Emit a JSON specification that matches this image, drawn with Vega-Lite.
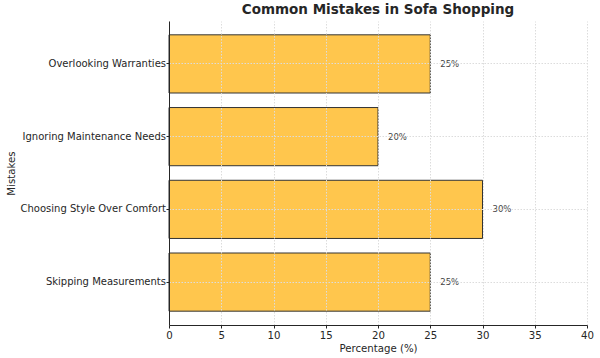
{
  "$schema": "https://vega.github.io/schema/vega-lite/v6.json",
  "autosize": "none",
  "width": 418,
  "height": 304,
  "padding": {"left": 169, "top": 21, "right": 13, "bottom": 33},
  "background": "white",
  "title": {"text": "Common Mistakes in Sofa Shopping", "font": "DejaVu Sans", "fontSize": 13.5, "fontWeight": "bold", "color": "#262626", "anchor": "middle", "offset": 5},
  "config": {"view": {"stroke": null}, "font": "DejaVu Sans"},
  "data": {"values": [
    {"mistake": "Skipping Measurements", "pct": 25},
    {"mistake": "Choosing Style Over Comfort", "pct": 30},
    {"mistake": "Ignoring Maintenance Needs", "pct": 20},
    {"mistake": "Overlooking Warranties", "pct": 25}
  ]},
  "encoding": {
    "y": {"field": "mistake", "type": "nominal", "sort": ["Overlooking Warranties", "Ignoring Maintenance Needs", "Choosing Style Over Comfort", "Skipping Measurements"],
      "scale": {"paddingInner": 0.2, "paddingOuter": 0.19},
      "axis": {"title": "Mistakes", "zindex": 1, "grid": true, "gridDash": [1.5, 1.5], "gridColor": "#dcdcdc", "labelFont": "DejaVu Sans", "labelFontSize": 10, "labelColor": "#262626", "titleFont": "DejaVu Sans", "titleFontSize": 10.2, "titleFontWeight": "normal", "titleColor": "#262626", "domainColor": "#262626", "tickColor": "#262626", "tickSize": 3, "labelPadding": 0.5, "titlePadding": 4}},
    "x": {"field": "pct", "type": "quantitative", "scale": {"domain": [0, 40]},
      "axis": {"title": "Percentage (%)", "values": [0,5,10,15,20,25,30,35,40], "zindex": 1, "grid": true, "gridDash": [1.5, 1.5], "gridColor": "#dcdcdc", "labelFont": "DejaVu Sans", "labelFontSize": 10.2, "labelColor": "#262626", "titleFont": "DejaVu Sans", "titleFontSize": 10.2, "titleFontWeight": "normal", "titleColor": "#262626", "domainColor": "#262626", "tickColor": "#262626", "tickSize": 3, "labelPadding": 2, "titlePadding": 3, "labelFlush": false}}
  },
  "layer": [
    {"mark": {"type": "bar", "fill": "#FFC64D", "stroke": "#333333", "strokeWidth": 1}},
    {"mark": {"type": "text", "align": "left", "dx": 10, "fontSize": 8.5, "color": "#444444", "font": "DejaVu Sans", "text": {"expr": "datum.pct + '%'"}}}
  ]
}
